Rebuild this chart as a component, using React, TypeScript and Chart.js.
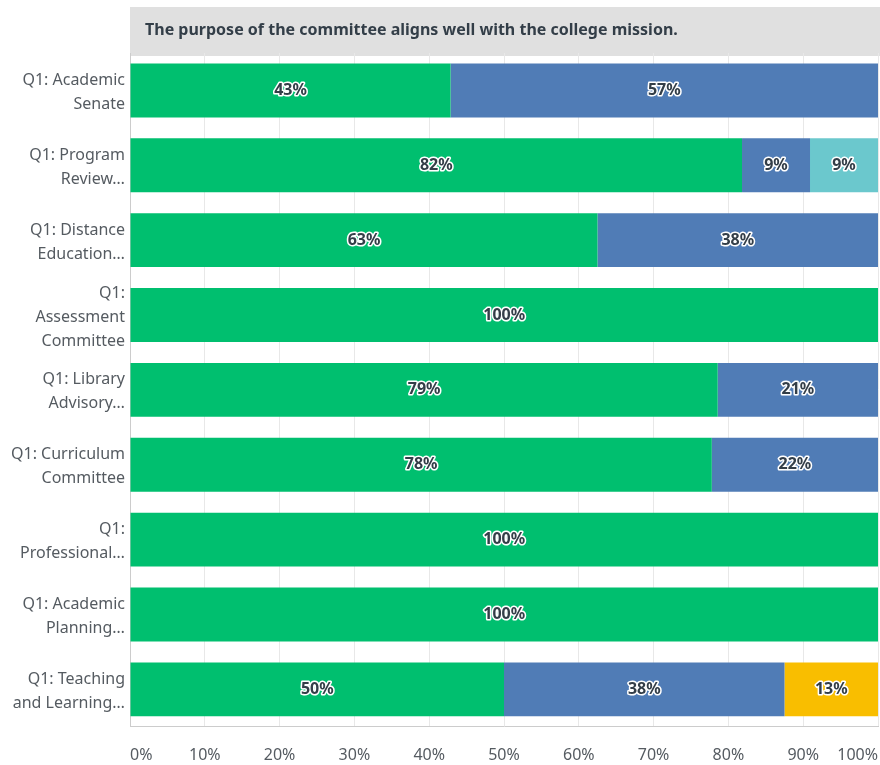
import React, { useEffect, useRef } from "react";
import { Chart, registerables } from "chart.js";

Chart.register(...registerables);

const titleText = "The purpose of the committee aligns well with the college mission.";

const categories: string[][] = [
  ["Q1: Academic", "Senate"],
  ["Q1: Program", "Review…"],
  ["Q1: Distance", "Education…"],
  ["Q1:", "Assessment", "Committee"],
  ["Q1: Library", "Advisory…"],
  ["Q1: Curriculum", "Committee"],
  ["Q1:", "Professional…"],
  ["Q1: Academic", "Planning…"],
  ["Q1: Teaching", "and Learning…"],
];

const seriesNames = ["Strongly agree", "Agree", "Neutral", "Disagree"];
const seriesA = [42.86, 81.82, 62.5, 100, 78.57, 77.78, 100, 100, 50];
const seriesB = [57.14, 9.09, 37.5, 0, 21.43, 22.22, 0, 0, 37.5];
const seriesC = [0, 9.09, 0, 0, 0, 0, 0, 0, 0];
const seriesD = [0, 0, 0, 0, 0, 0, 0, 0, 12.5];
const colors = ["#00bf6f", "#507cb6", "#6bc8cd", "#f9be00"];

const xTicks = [0, 10, 20, 30, 40, 50, 60, 70, 80, 90, 100];

const FONT = "'Noto Sans', 'Open Sans', sans-serif";

const titleBoxPlugin = {
  id: "titleBox",
  beforeDraw(chart: any) {
    const { ctx, chartArea, width } = chart;
    ctx.save();
    ctx.fillStyle = "#e0e0e0";
    ctx.fillRect(chartArea.left, 7, width - chartArea.left, 49);
    ctx.fillStyle = "#333e48";
    ctx.font = `bold 16px ${FONT}`;
    ctx.textBaseline = "middle";
    ctx.textAlign = "left";
    ctx.fillText(titleText, chartArea.left + 15, 30);
    ctx.restore();
  },
};

const barLabelPlugin = {
  id: "barLabels",
  afterDatasetsDraw(chart: any) {
    const { ctx } = chart;
    ctx.save();
    ctx.font = `bold 16px ${FONT}`;
    ctx.textAlign = "center";
    ctx.textBaseline = "middle";
    ctx.lineJoin = "round";
    chart.data.datasets.forEach((ds: any, i: number) => {
      const meta = chart.getDatasetMeta(i);
      meta.data.forEach((bar: any, j: number) => {
        const v = ds.data[j];
        if (!v) return;
        const x = (bar.x + bar.base) / 2;
        const y = bar.y;
        const t = Math.round(v) + "%";
        ctx.strokeStyle = "#ffffff";
        ctx.lineWidth = 3;
        ctx.strokeText(t, x, y);
        ctx.fillStyle = "#333e48";
        ctx.fillText(t, x, y);
      });
    });
    ctx.restore();
  },
};

const zeroPadding = () => ({ left: 0, top: 0, right: 0, bottom: 0 });

export default function App() {
  const ref = useRef<HTMLCanvasElement>(null);
  useEffect(() => {
    document.body.style.margin = "0";
    const seriesData = [seriesA, seriesB, seriesC, seriesD];
    const chart = new Chart(ref.current!, {
      type: "bar",
      data: {
        labels: categories,
        datasets: seriesData.map((d, i) => ({
          label: seriesNames[i],
          data: d,
          backgroundColor: colors[i],
          borderWidth: 0,
          barPercentage: 0.72,
          categoryPercentage: 1,
        })),
      },
      options: {
        indexAxis: "y",
        responsive: false,
        animation: false,
        layout: { padding: { top: 53, right: 2, bottom: -19, left: 0 } },
        plugins: {
          legend: { display: false },
          tooltip: { enabled: false },
          title: { display: false },
        },
        scales: {
          x: {
            stacked: true,
            min: 0,
            max: 100,
            afterBuildTicks(scale: any) {
              scale.ticks = xTicks.map((v) => ({ value: v }));
            },
            afterFit(scale: any) {
              scale.paddingLeft = 0;
              scale.paddingRight = 0;
              scale.getPadding = zeroPadding;
            },
            ticks: {
              callback: (v: any) => v + "%",
              font: { family: FONT, size: 16 },
              color: "#555b61",
              padding: 19,
              align: "inner",
              maxRotation: 0,
              autoSkip: false,
            },
            grid: { color: "#e8e8e8", drawTicks: false, lineWidth: 1 },
            border: { color: "#cccccc", width: 1 },
          },
          y: {
            stacked: true,
            afterFit(scale: any) {
              scale.width = 130;
              scale.paddingTop = 0;
              scale.paddingBottom = 0;
              scale.getPadding = zeroPadding;
            },
            ticks: {
              font: { family: FONT, size: 16, lineHeight: 1.5 },
              color: "#555b61",
              padding: 5,
              labelOffset: 2,
              autoSkip: false,
            },
            grid: { display: false, drawTicks: false },
            border: { color: "#cccccc", width: 1 },
          },
        },
      },
      plugins: [titleBoxPlugin, barLabelPlugin],
    } as any);
    return () => chart.destroy();
  }, []);
  return <canvas ref={ref} width={880} height={765} style={{ display: "block" }} />;
}
